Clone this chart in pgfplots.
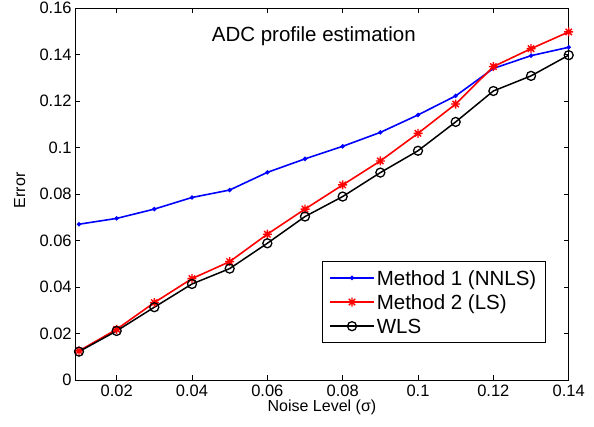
\documentclass[border=0pt]{standalone}
\usepackage{fontspec}
\setmainfont{Liberation Sans}
\usepackage{pgfplots}
\pgfplotsset{compat=1.18}
\pgfdeclareplotmark{star8}{%
  \pgfpathmoveto{\pgfqpoint{0pt}{\pgfplotmarksize}}\pgfpathlineto{\pgfqpoint{0pt}{-\pgfplotmarksize}}%
  \pgfpathmoveto{\pgfqpoint{\pgfplotmarksize}{0pt}}\pgfpathlineto{\pgfqpoint{-\pgfplotmarksize}{0pt}}%
  \pgfpathmoveto{\pgfqpoint{0.707\pgfplotmarksize}{0.707\pgfplotmarksize}}\pgfpathlineto{\pgfqpoint{-0.707\pgfplotmarksize}{-0.707\pgfplotmarksize}}%
  \pgfpathmoveto{\pgfqpoint{-0.707\pgfplotmarksize}{0.707\pgfplotmarksize}}\pgfpathlineto{\pgfqpoint{0.707\pgfplotmarksize}{-0.707\pgfplotmarksize}}%
  \pgfusepathqstroke}
\begin{document}
\begin{tikzpicture}[x=1pt,y=1pt]
\useasboundingbox (0,0) rectangle (594,427);
\begin{axis}[
  at={(75.2pt,47pt)}, anchor=south west,
  scale only axis, width=493.5pt, height=372pt,
  xmin=0.009, xmax=0.14, ymin=0, ymax=0.16,
  xtick={0.02,0.04,0.06,0.08,0.1,0.12,0.14},
  ytick={0,0.02,0.04,0.06,0.08,0.1,0.12,0.14,0.16},
  scaled ticks=false,
  /pgf/number format/assume math mode=true,
  /pgf/number format/fixed,
  /pgf/number format/precision=2,
  tick align=inside, major tick length=5pt,
  tick style={black, line width=0.6pt},
  axis line style={line width=0.8pt},
  tick label style={font=\fontsize{16.5}{18}\selectfont},
  xticklabel style={yshift=-1pt},
  xlabel={Noise Level (σ)}, ylabel={Error},
  label style={font=\fontsize{16}{18}\selectfont},
  xlabel style={at={(axis description cs:0.5,0)}, anchor=base, yshift=-31.5pt},
  ylabel style={at={(axis description cs:0,0.51)}, anchor=base, yshift=50pt},
  clip=false,
  legend cell align=left,
  legend style={at={(axis description cs:0.9534,0.3199)}, anchor=north east,
    font=\fontsize{20.5}{24}\selectfont, draw=black, line width=0.8pt, fill=white,
    inner xsep=7pt, inner ysep=5pt, row sep=1.15pt,
    nodes={inner xsep=2pt, inner ysep=1pt, text height=18pt, text depth=3pt}},
  legend image code/.code={\draw[mark repeat=2,mark phase=2] plot coordinates {(0pt,0pt)(22pt,0pt)(44pt,0pt)};},
]
\addplot[color={rgb,255:red,0;green,0;blue,255}, line width=1.6pt, mark=*, mark size=1.3pt]
coordinates {(0.01,0.0670)(0.02,0.0695)(0.03,0.0735)(0.04,0.0785)(0.05,0.0817)(0.06,0.0893)(0.07,0.0951)(0.08,0.1005)(0.09,0.1065)(0.10,0.1140)(0.11,0.1222)(0.12,0.1340)(0.13,0.1395)(0.14,0.1431)};
\addlegendentry{Method 1 (NNLS)}
\addplot[color={rgb,255:red,255;green,0;blue,0}, line width=1.6pt, mark=star8, mark size=4.5pt, mark options={line width=1.4pt}]
coordinates {(0.01,0.0125)(0.02,0.0218)(0.03,0.0333)(0.04,0.0436)(0.05,0.0509)(0.06,0.0627)(0.07,0.0735)(0.08,0.0839)(0.09,0.0942)(0.10,0.1061)(0.11,0.1187)(0.12,0.1348)(0.13,0.1425)(0.14,0.1497)};
\addlegendentry{Method 2 (LS)}
\addplot[color=black, line width=1.5pt, mark=o, mark size=4.5pt, mark options={line width=1.3pt}]
coordinates {(0.01,0.0122)(0.02,0.0211)(0.03,0.0313)(0.04,0.0413)(0.05,0.0479)(0.06,0.0588)(0.07,0.0703)(0.08,0.0789)(0.09,0.0892)(0.10,0.0986)(0.11,0.1110)(0.12,0.1243)(0.13,0.1308)(0.14,0.1397)};
\addlegendentry{WLS}
\node[font=\fontsize{20.5}{24}\selectfont, anchor=base] at (axis description cs:0.4835,0.9086) {ADC profile estimation};
\end{axis}
\end{tikzpicture}
\end{document}
